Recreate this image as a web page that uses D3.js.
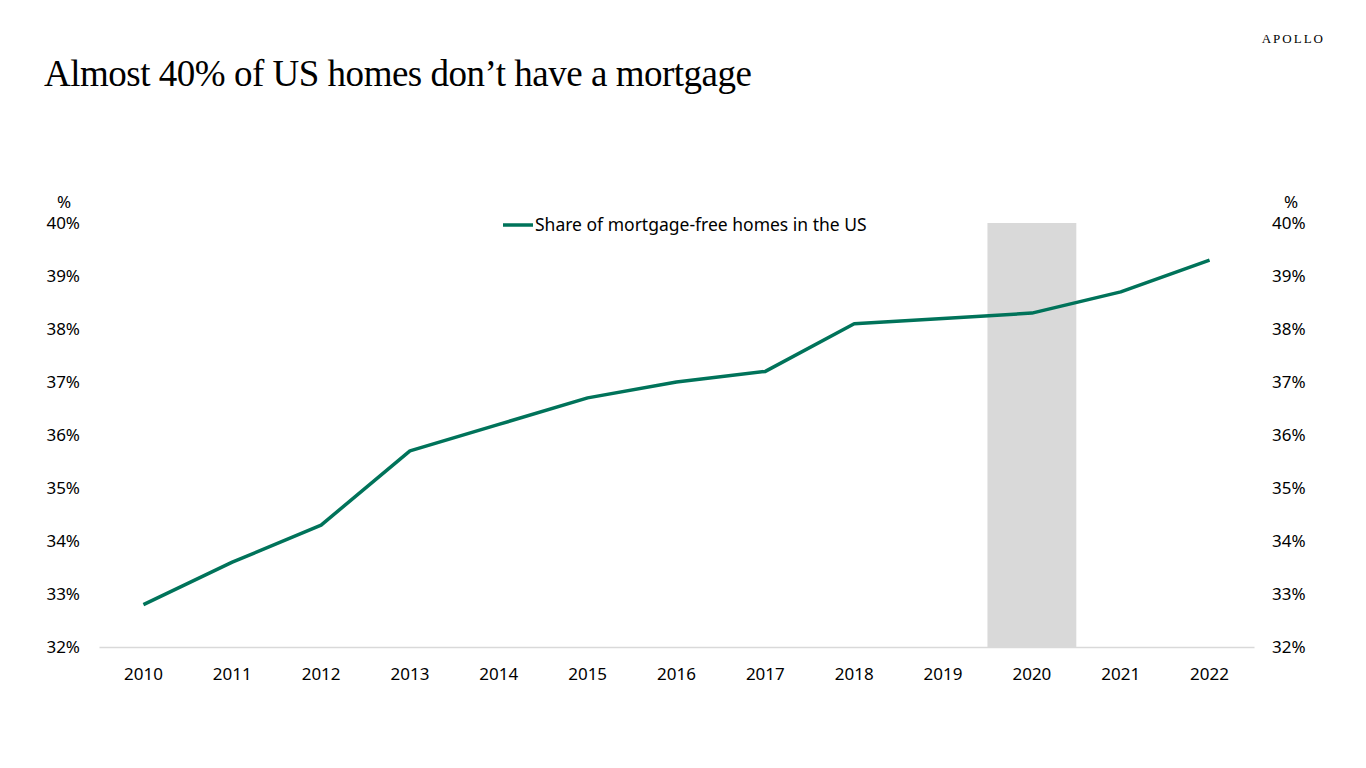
<!DOCTYPE html>
<html>
<head>
<meta charset="utf-8">
<script src="https://cdn.jsdelivr.net/npm/d3@7"></script>
<style>
  body { margin: 0; background: #fff; }
  svg { display: block; }
  .tick text { font-family: "Noto Sans", "Open Sans", sans-serif; font-size: 17px; fill: #000; }
</style>
</head>
<body>
<svg></svg>
<script>
// data
var years = ["2010","2011","2012","2013","2014","2015","2016","2017","2018","2019","2020","2021","2022"];
var shareFree = [32.8, 33.6, 34.3, 35.7, 36.2, 36.7, 37.0, 37.2, 38.1, 38.2, 38.3, 38.7, 39.3];
var yTicks = [32, 33, 34, 35, 36, 37, 38, 39, 40];
var shadedYears = ["2020"];
var seriesName = "Share of mortgage-free homes in the US";

var svgWidth = 1366, svgHeight = 768;
var plotLeft = 99, plotRight = 1254, plotTop = 223, plotBottom = 647;
var green = "#00735a";

var svg = d3.select("svg")
    .attr("width", svgWidth)
    .attr("height", svgHeight);

var x = d3.scaleBand().domain(years).range([plotLeft, plotRight]);
var y = d3.scaleLinear().domain([32, 40]).range([plotBottom, plotTop]);

// shaded area
svg.selectAll("rect.shade")
    .data(shadedYears)
    .enter()
    .append("rect")
    .attr("class", "shade")
    .attr("x", function(d) { return x(d); })
    .attr("width", x.bandwidth())
    .attr("y", y(40))
    .attr("height", y(32) - y(40))
    .attr("fill", "#d9d9d9");

// x axis
var xAxis = svg.append("g")
    .attr("transform", "translate(0," + plotBottom + ")")
    .call(d3.axisBottom(x).tickSize(0).tickPadding(21));
xAxis.select(".domain").attr("stroke", "#d9d9d9").attr("stroke-width", 1.5);

// y axes
var fmt = function(d) { return d + "%"; };
var yLeft = svg.append("g")
    .attr("transform", "translate(" + (plotLeft - 19) + ",0)")
    .call(d3.axisLeft(y).tickValues(yTicks).tickFormat(fmt).tickSize(0).tickPadding(0));
yLeft.select(".domain").remove();

var yRight = svg.append("g")
    .attr("transform", "translate(" + (plotRight + 18) + ",0)")
    .call(d3.axisRight(y).tickValues(yTicks).tickFormat(fmt).tickSize(0).tickPadding(0));
yRight.select(".domain").remove();

// % unit labels
svg.append("text").attr("x", 64).attr("y", 208).attr("text-anchor", "middle")
    .style("font-family", "Noto Sans, sans-serif").style("font-size", "17px").text("%");
svg.append("text").attr("x", 1291).attr("y", 208).attr("text-anchor", "middle")
    .style("font-family", "Noto Sans, sans-serif").style("font-size", "17px").text("%");

// line
var line = d3.line()
    .x(function(d, i) { return x(years[i]) + x.bandwidth() / 2; })
    .y(function(d) { return y(d); });

svg.append("path")
    .datum(shareFree)
    .attr("fill", "none")
    .attr("stroke", green)
    .attr("stroke-width", 3.5)
    .attr("stroke-linejoin", "round")
    .attr("d", line);

// legend
svg.append("line")
    .attr("x1", 503).attr("x2", 533).attr("y1", 225).attr("y2", 225)
    .attr("stroke", green).attr("stroke-width", 3.5);
svg.append("text")
    .attr("x", 535).attr("y", 231)
    .style("font-family", "Noto Sans, sans-serif").style("font-size", "17.5px")
    .text(seriesName);

// title
svg.append("text")
    .attr("x", 44).attr("y", 86)
    .style("font-family", "Liberation Serif, serif").style("font-size", "37px")
    .attr("textLength", 708)
    .text("Almost 40% of US homes don\u2019t have a mortgage");

svg.append("text")
    .attr("x", 1325).attr("y", 43).attr("text-anchor", "end")
    .style("font-family", "Liberation Serif, serif").style("font-size", "13px")
    .style("letter-spacing", "2px")
    .text("APOLLO");
</script>
</body>
</html>
